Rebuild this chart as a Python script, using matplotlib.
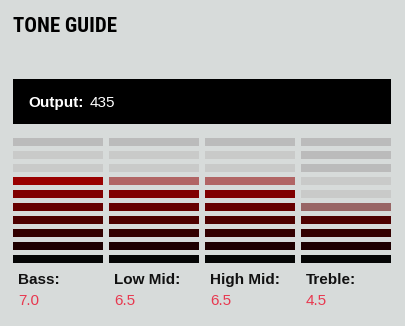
import matplotlib.pyplot as plt
from matplotlib.colors import to_rgb
from matplotlib import font_manager

# data
bands = ["Bass:", "Low Mid:", "High Mid:", "Treble:"]
levels = [7.0, 6.5, 6.5, 4.5]
output_value = 435

# level colours, bottom (1) to top (7)
on_colors = ["#050505", "#1e0000", "#330000", "#4d0000", "#660000", "#800000", "#990000"]
bg = "#d7dbda"
off_dark = "#bbbbbb"
off_light = "#c9cac9"

W, H = 405, 326
fig = plt.figure(figsize=(W / 100, H / 100), dpi=100)
fig.patch.set_facecolor(bg)
ax = fig.add_axes([0, 0, 1, 1])
ax.set_xlim(0, W)
ax.set_ylim(H, 0)
ax.axis("off")


def mix(c, base, a):
    c1, c2 = to_rgb(c), to_rgb(base)
    return tuple(a * x + (1 - a) * y for x, y in zip(c1, c2))


names = {f.name for f in font_manager.fontManager.ttflist}
title_font = "DejaVu Sans"
for cand in ["Liberation Sans Narrow", "DejaVu Sans Condensed", "Roboto Condensed", "Open Sans Condensed"]:
    if cand in names:
        title_font = cand
        break

# title
ax.text(13, 32, "TONE GUIDE", fontsize=15, fontweight="bold", fontstretch="condensed",
        family=title_font, color="#000000", va="baseline")

# output band
ax.bar(13, 45, width=378, bottom=79, align="edge", color="black")
ax.text(28, 107, "Output:", fontsize=11, fontweight="bold", color="white",
        family="Liberation Sans", va="baseline")
ax.text(90, 107, str(output_value), fontsize=11, color="white",
        family="Liberation Sans", va="baseline")

# meter bars
col_x0, col_w, col_gap = 13, 90, 6
row_top, row_pitch, row_h = 255, 13, 8
for i, (name, lv) in enumerate(zip(bands, levels)):
    x = col_x0 + i * (col_w + col_gap)
    n_dark_off = 3
    for r in range(10):
        lvl = r + 1
        if lvl <= lv:
            c = on_colors[min(r, 6)]
        elif lvl - 0.5 <= lv:
            c = mix(on_colors[min(r, 6)], off_light, 0.5)
        elif lvl > 10 - n_dark_off and (lvl == 10 or lv < 5):
            c = off_dark
        else:
            c = off_light
        ax.bar(x, row_h, width=col_w, bottom=row_top - r * row_pitch, align="edge",
               color=c, linewidth=0)
    ax.text(x + 5, 284, name, fontsize=11, fontweight="bold", color="#111111",
            family="Liberation Sans", va="baseline")
    ax.text(x + 5, 305, f"{lv:.1f}", fontsize=11, color="#e8384f",
            family="Liberation Sans", va="baseline")

fig.savefig("out.png", dpi=100, facecolor=bg)
